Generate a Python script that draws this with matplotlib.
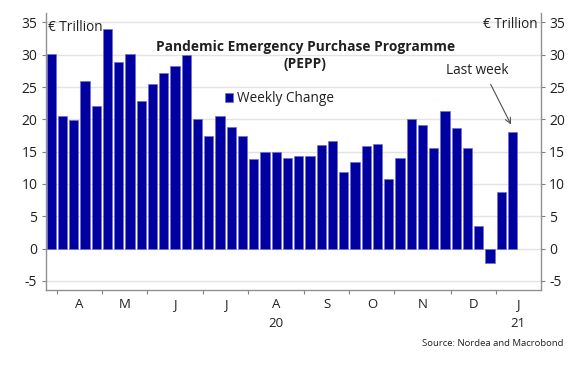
import matplotlib
matplotlib.use("Agg")
import matplotlib.pyplot as plt
import numpy as np

plt.rcParams['font.family'] = ['Open Sans', 'DejaVu Sans']
plt.rcParams['axes.unicode_minus'] = False

# weekly change in PEPP holdings (EUR bn), last week of March 2020 to early Jan 2021
weekly_change = [30.1, 20.5, 19.9, 26.0, 22.0, 34.0, 28.8, 30.1, 22.8, 25.4,
                 27.1, 28.2, 30.0, 20.1, 17.4, 20.5, 18.8, 17.4, 13.8, 14.9,
                 14.9, 14.0, 14.3, 14.3, 16.0, 16.6, 11.8, 13.4, 15.8, 16.2,
                 10.7, 14.0, 20.0, 19.1, 15.6, 21.3, 18.7, 15.6, 3.5, -2.3,
                 8.8, 18.1]
# number of weekly slots per month on the category axis (Mar..Jan)
month_names = ["", "A", "M", "J", "J", "A", "S", "O", "N", "D", "J"]
month_weeks = [1, 4, 4, 5, 4, 5, 4, 4, 5, 4, 4]
year_labels = {5: "20", 10: "21"}
yticks = [-5, 0, 5, 10, 15, 20, 25, 30, 35]

bar_color = "#0000A0"
txt = "#202020"

fig = plt.figure(figsize=(5.8, 3.65), dpi=100)
ax = fig.add_axes([0.0788, 0.2055, 0.8534, 0.758])

x = np.arange(len(weekly_change))
ax.bar(x, weekly_change, width=0.82, color=bar_color, edgecolor="#7070d0",
       linewidth=0.5, zorder=3, label="Weekly Change")

n_slots = sum(month_weeks)
ax.set_xlim(-0.5, n_slots - 0.5)
ax.set_ylim(-6.4, 36.4)

# horizontal grid
ax.set_yticks(yticks)
ax.grid(axis="y", color="#e3e3e3", linewidth=1.0, zorder=0)
ax.grid(axis="x", visible=False)

# month boundaries as ticks, labels in between
bounds = np.cumsum(month_weeks) - 0.5
ax.set_xticks(bounds[:-1])
ax.set_xticklabels([])
ax.tick_params(axis="x", length=3, color="#808080", width=0.8)
starts = np.concatenate([[-0.5], bounds[:-1]])
xt = ax.get_xaxis_transform()
for i, name in enumerate(month_names):
    if not name:
        continue
    mid = (starts[i] + bounds[i]) / 2
    ax.text(mid, -0.052, name, transform=xt, ha="center", va="center",
            fontsize=9.5, color=txt)
    if i in year_labels:
        ax.text(mid, -0.12, year_labels[i], transform=xt, ha="center",
                va="center", fontsize=9.5, color=txt)

# y ticks on both sides
ax.tick_params(axis="y", which="both", left=True, right=True, labelleft=True,
               labelright=True, length=3, color="#808080", width=0.8,
               labelsize=10, labelcolor=txt, pad=3)

for s in ["left", "right", "bottom"]:
    ax.spines[s].set_color("#909090")
    ax.spines[s].set_linewidth(1.0)
ax.spines["top"].set_visible(False)

ax.text(0.005, 0.947, "€ Trillion", transform=ax.transAxes, ha="left",
        va="center", fontsize=9.8, color=txt)
ax.text(0.993, 0.961, "€ Trillion", transform=ax.transAxes, ha="right",
        va="center", fontsize=9.8, color=txt)

ax.text(0.524, 0.879, "Pandemic Emergency Purchase Programme",
        transform=ax.transAxes, ha="center", va="center", fontsize=9.9,
        fontweight="bold", color=txt)
ax.text(0.524, 0.818, "(PEPP)", transform=ax.transAxes, ha="center",
        va="center", fontsize=9.9, fontweight="bold", color=txt)

leg = ax.legend(loc="center left", bbox_to_anchor=(0.362, 0.691),
                frameon=False, fontsize=9.8, handlelength=0.6,
                handleheight=0.6, handletextpad=0.3, borderpad=0,
                borderaxespad=0)
for t in leg.get_texts():
    t.set_color(txt)

ax.text(37.9, 27.6, "Last week", ha="center", va="center", fontsize=9.8,
        color=txt)
ax.annotate("", xy=(40.86, 19.2), xytext=(39.06, 25.4),
            arrowprops=dict(arrowstyle="->", color="#505050", lw=0.8,
                            shrinkA=0, shrinkB=0))

fig.text(0.971, 0.06, "Source: Nordea and Macrobond", ha="right",
         va="center", fontsize=6.8, color=txt)

fig.savefig("out.png", dpi=100)
